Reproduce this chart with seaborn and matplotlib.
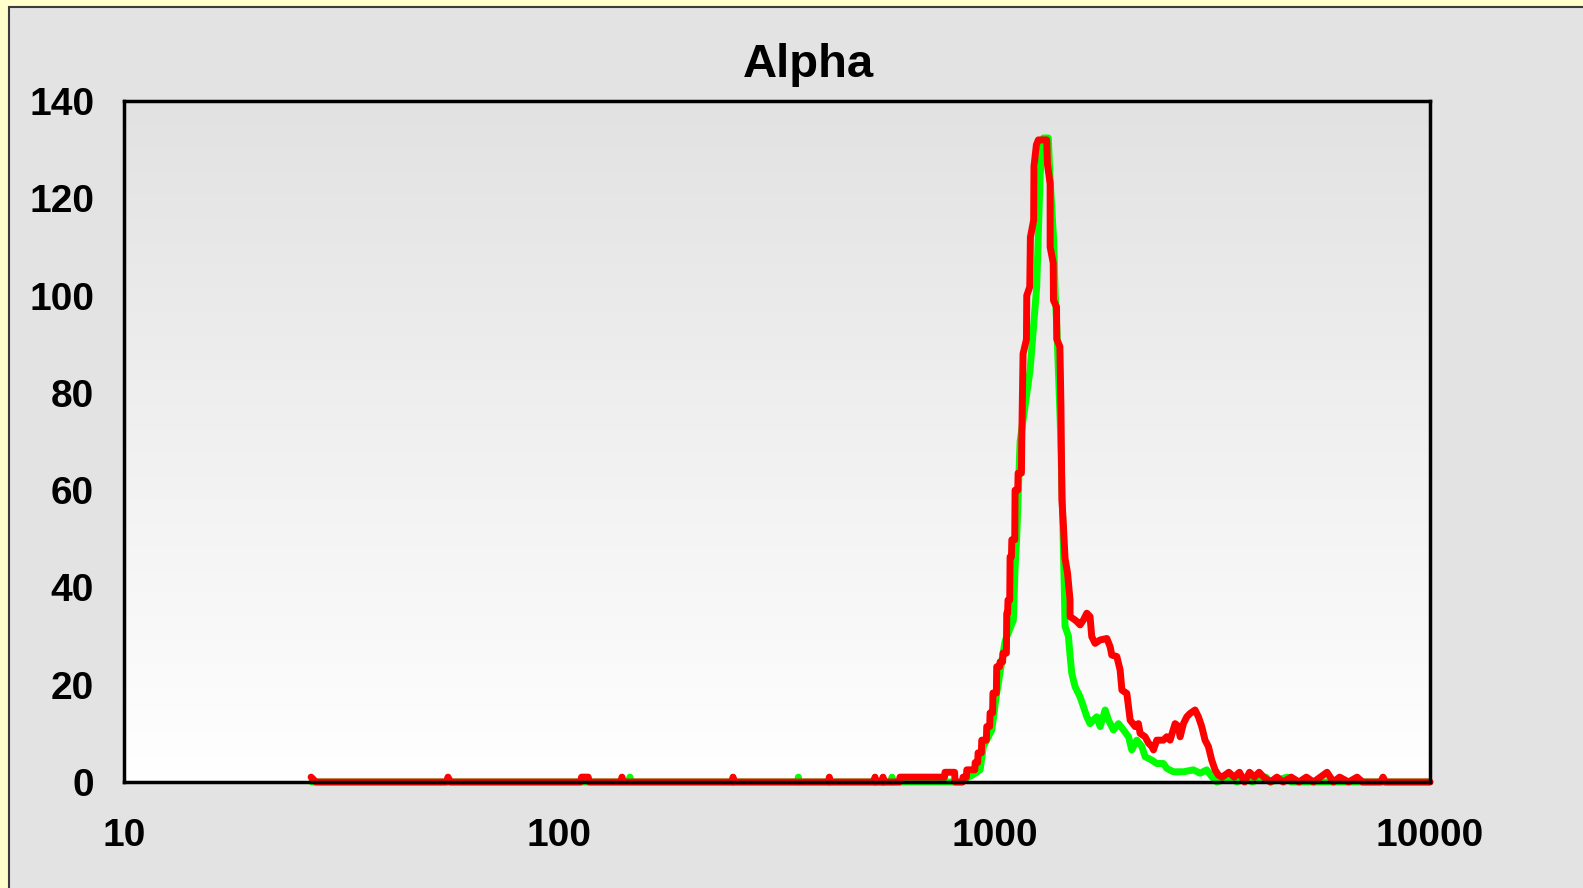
import numpy as np
import pandas as pd
import matplotlib
matplotlib.use("Agg")
import matplotlib.pyplot as plt
from matplotlib.patches import Rectangle
from matplotlib.colors import LinearSegmentedColormap
from matplotlib.ticker import LogLocator, NullFormatter
import seaborn as sns

# --- data (channel value, count) ---
red_x = [26.9, 27.6, 55.0, 55.5, 56.2, 111.8, 112.5, 116.5, 117.2, 138.6, 139.3, 140.0,
         250.0, 250.6, 251.5, 416, 417, 418, 530, 531, 532, 553, 554, 555,
         604, 606, 767, 769, 809, 811, 844, 846, 861, 863, 900, 902,
         914, 916, 932, 934, 957, 959, 974, 976, 989, 991, 1009, 1011,
         1027, 1029, 1043, 1045, 1064, 1066, 1071, 1073, 1083, 1085, 1093, 1095,
         1112, 1114, 1130, 1132, 1152, 1154, 1162, 1183, 1185, 1204, 1208, 1229,
         1231, 1247, 1260, 1317, 1322, 1341, 1341, 1363, 1365, 1387, 1389, 1412,
         1420, 1427, 1438, 1451, 1470, 1490, 1490, 1530, 1544, 1571, 1599, 1628,
         1656, 1671, 1701, 1747, 1810, 1842, 1858, 1908, 1942, 1960, 2012, 2030,
         2048, 2102, 2139, 2158, 2216, 2256, 2296, 2316, 2357, 2441, 2485, 2529,
         2597, 2643, 2667, 2714, 2763, 2812, 2886, 2938, 2990, 3043, 3097, 3152,
         3208, 3266, 3330, 3450, 3550, 3650, 3750, 3850, 3950, 4050, 4150, 4300,
         4450, 4600, 4800, 5000, 5200, 5400, 5600, 5800, 6000, 6200, 6500, 6800,
         7000, 7700, 7800, 7900, 10000]
red_y = [1, 0, 0, 1, 0, 0, 1, 1, 0, 0, 1, 0,
         0, 1, 0, 0, 1, 0, 0, 1, 0, 0, 1, 0,
         0, 1, 1, 2, 2, 0, 0, 1, 1, 2.5, 2.5, 4,
         4, 6, 6, 8.6, 8.6, 11.4, 11.4, 14.2, 14.2, 18.3, 18.3, 23.7,
         23.7, 24.7, 24.7, 26.5, 26.5, 34.7, 34.7, 37.4, 37.4, 46.3, 46.3, 49.8,
         49.8, 60, 60, 63.5, 63.5, 70, 88, 91, 100, 101.8, 112, 115.5,
         126.5, 131, 132, 132, 127, 123, 110, 106.7, 99, 97.7, 91, 89.5,
         77, 58, 53, 46, 43, 37.4, 34, 33.3, 33, 32.3, 33.3, 34.7,
         34, 29.9, 28.5, 29.2, 29.5, 27.8, 26.1, 25.8, 23, 18.9, 18.2, 15.5,
         12.7, 11.4, 12, 10, 9.3, 8, 7.3, 6.6, 8.6, 8.6, 9.3, 8.6,
         12, 11.4, 9.3, 12, 13.4, 14.1, 14.8, 13.4, 11.4, 8.6, 7.3, 4.5,
         2.5, 1.4, 1, 2, 1, 2, 0, 2, 1, 2, 1, 0,
         1, 0, 1, 0, 1, 0, 1, 2, 0, 1, 0, 1,
         0, 0, 1, 0, 0]

green_x = [27, 144.5, 145.3, 146.1, 353, 354, 355, 580, 581, 582,
           840, 870, 892, 926, 942, 985, 1011, 1057, 1104, 1114,
           1124, 1144, 1206, 1249, 1272, 1294, 1328, 1341, 1365, 1377,
           1389, 1414, 1430, 1445, 1451, 1477, 1490, 1504, 1530, 1571,
           1599, 1628, 1656, 1685, 1716, 1747, 1794, 1826, 1874, 1925,
           1976, 2030, 2065, 2121, 2178, 2216, 2296, 2357, 2441, 2485,
           2574, 2714, 2860, 2964, 3071, 3152, 3237, 3500, 3600, 3800,
           3900, 4200, 4300, 4700, 4800, 5500, 10000]
green_y = [0, 0, 1, 0, 0, 1, 0, 0, 1, 0,
           0, 1, 1.5, 2.5, 7.3, 10.7, 18.3, 29, 33.3, 44,
           50.4, 70, 84.7, 101.8, 125, 132.4, 132.4, 123.8, 112, 100.5,
           93.6, 74.4, 58, 40, 32, 30, 26, 22.3, 19.6, 17.5,
           15.5, 13.4, 12, 12.7, 13.4, 11.4, 14.8, 12.7, 10.7, 12,
           10.7, 9.3, 6.6, 8.6, 7.3, 5.2, 4.5, 3.8, 3.8, 2.8,
           2.1, 2.1, 2.5, 1.8, 2.5, 1.1, 0, 1, 0, 1,
           0, 1, 0, 1, 0, 0, 0]

y_ticks = [0, 20, 40, 60, 80, 100, 120, 140]
x_ticks = [10, 100, 1000, 10000]
x_tick_labels = ["10", "100", "1000", "10000"]
title = "Alpha"

assert len(red_x) == len(red_y) and len(green_x) == len(green_y)

df = pd.DataFrame({
    "x": green_x + red_x,
    "y": green_y + red_y,
    "series": ["green"] * len(green_x) + ["red"] * len(red_x),
})

sns.set_style("white")
plt.rcParams["font.family"] = ["Liberation Sans", "DejaVu Sans"]
plt.rcParams["font.weight"] = "bold"
plt.rcParams["text.color"] = "black"
plt.rcParams["xtick.color"] = "black"
plt.rcParams["ytick.color"] = "black"

W, H = 1583, 888
fig = plt.figure(figsize=(W / 100, H / 100), dpi=100)
fig.patch.set_facecolor("#FFFFCC")
fig.patches.append(Rectangle((9 / W, -0.1), 1.2, 1.1 - 7 / H, transform=fig.transFigure,
                             facecolor="#E3E3E3", edgecolor="#3c3c3c", lw=1.5, zorder=-10))

pos = [124 / W, 1 - 782 / H, (1430 - 124) / W, (782 - 101) / H]

# gradient backdrop of the plot area
bg = fig.add_axes(pos, zorder=0)
grad = LinearSegmentedColormap.from_list("g", ["#E2E2E2", "#FFFFFF"])
bg.imshow(np.linspace(0, 1, 256).reshape(-1, 1), cmap=grad, aspect="auto",
          extent=[0, 1, 0, 1])
bg.axis("off")

ax = fig.add_axes(pos, zorder=1)
ax.set_facecolor("none")
sns.lineplot(data=df, x="x", y="y", hue="series", hue_order=["green", "red"],
             palette={"green": "#00FF00", "red": "#FF0000"}, estimator=None,
             sort=False, lw=5.0, legend=False, clip_on=False, ax=ax)

ax.set_xscale("log")
ax.set_xlim(10, 10000)
ax.set_ylim(0, 140)
ax.set_xticks(x_ticks, x_tick_labels)
ax.set_yticks(y_ticks)
ax.xaxis.set_minor_locator(LogLocator(base=10, subs=range(2, 10)))
ax.xaxis.set_minor_formatter(NullFormatter())
ax.set_xlabel("")
ax.set_ylabel("")

ax.tick_params(axis="x", which="major", direction="out", length=6, width=1.5,
               color="#333333", labelsize=28, pad=20)
ax.tick_params(axis="x", which="minor", direction="inout", length=12, width=1.3,
               color="#555555")
ax.tick_params(axis="y", which="major", direction="out", length=9.5, width=1.5,
               color="#222222", labelsize=28, pad=12)
for lbl in ax.get_xticklabels() + ax.get_yticklabels():
    lbl.set_fontweight("bold")

for s in ax.spines.values():
    s.set_visible(True)
    s.set_color("black")
    s.set_linewidth(2.5)

fig.text(808 / W, 1 - 77 / H, title, ha="center", va="baseline",
         fontsize=34, fontweight="bold")

fig.savefig("out.png", dpi=100, facecolor=fig.get_facecolor())
plt.close(fig)
